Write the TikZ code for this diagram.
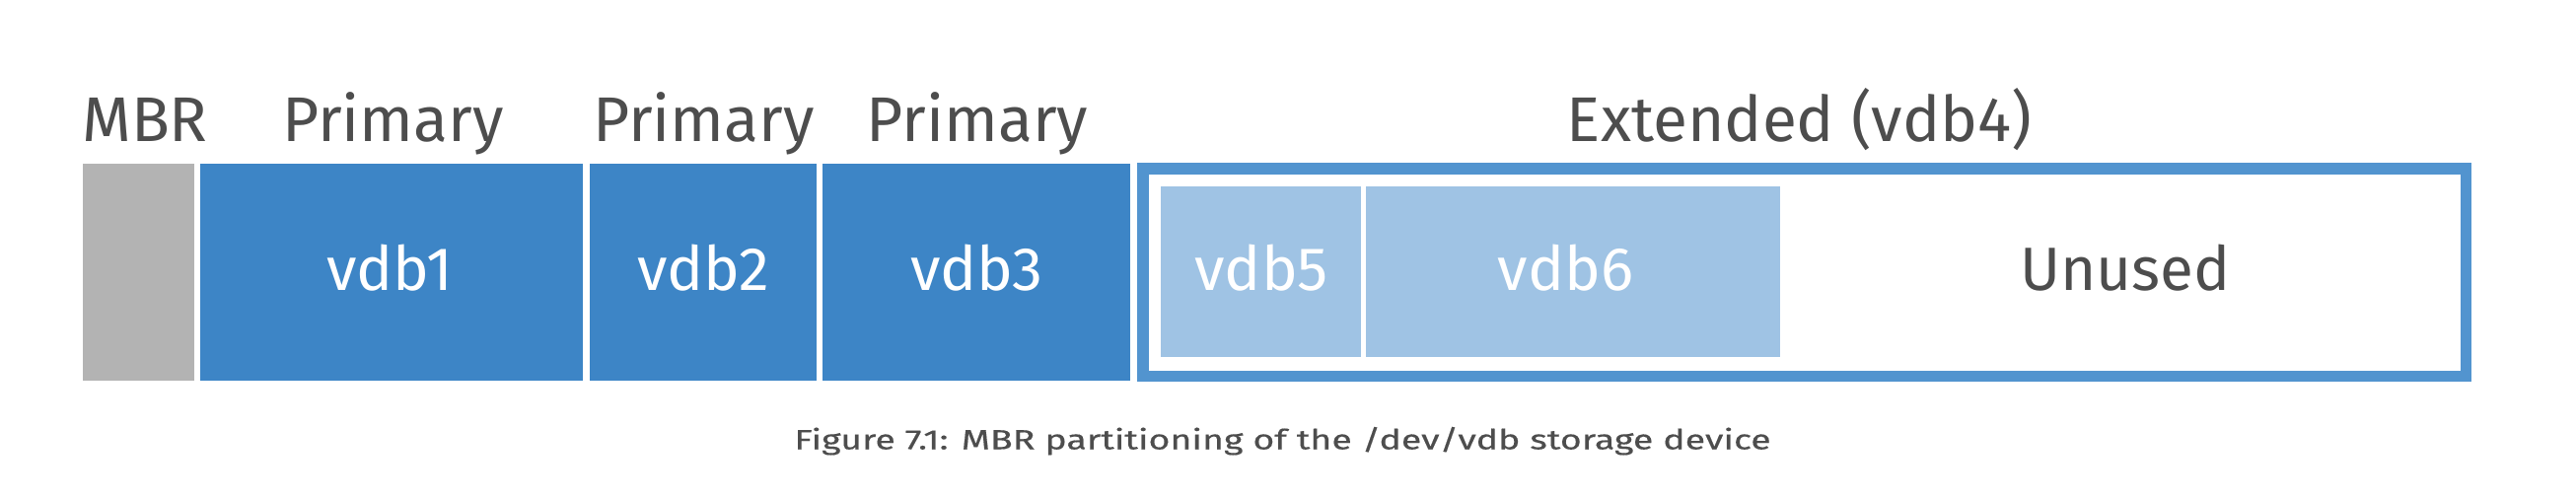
\documentclass[tikz,border=0pt]{standalone}
\usepackage{fontspec}
\setmainfont{Fira Sans}
\newfontfamily\capfont{Fira Sans}[FakeStretch=1.34, FakeBold=0.4]
\definecolor{mbrgray}{HTML}{B3B3B3}
\definecolor{prim}{HTML}{3D85C6}
\definecolor{extb}{HTML}{5294CF}
\definecolor{logi}{HTML}{9FC3E4}
\definecolor{txtgray}{HTML}{4D4D4D}
\begin{document}
\begin{tikzpicture}[x=1pt,y=-1pt,
  part/.style={anchor=north west, inner sep=0pt, outer sep=0pt, draw=none},
  head/.style={anchor=base, inner sep=0pt, text=txtgray, font=\fontsize{64}{70}\selectfont},
  inlbl/.style={anchor=base, inner sep=0pt, text=white, font=\fontsize{62}{70}\selectfont},
  figcap/.style={anchor=base, inner sep=0pt, text=txtgray, font=\capfont\fontsize{28}{30}\selectfont}]
\useasboundingbox (0,0) rectangle (2612,506);
% primary row
\node[part, fill=mbrgray, minimum width=113pt, minimum height=220pt] (mbr) at (84,166) {};
\node[part, fill=prim, minimum width=388pt, minimum height=220pt] (vdb1) at (203,166) {};
\node[part, fill=prim, minimum width=230pt, minimum height=220pt] (vdb2) at (598,166) {};
\node[part, fill=prim, minimum width=312pt, minimum height=220pt] (vdb3) at (834,166) {};
% extended
\node[draw=extb, line width=11.5pt, fill=white, inner sep=0pt, outer sep=0pt,
      minimum width=1341.5pt, minimum height=210.5pt] (vdb4) at (1829.5,276) {};
\node[part, fill=logi, minimum width=203pt, minimum height=173pt] (vdb5) at (1177,189) {};
\node[part, fill=logi, minimum width=420pt, minimum height=173pt] (vdb6) at (1385,189) {};
% headings
\node[head] (hmbr) at (147,143) {MBR};
\node[head] (hp1) at (398.5,143) {Primary};
\node[head] (hp2) at (713.5,143) {Primary};
\node[head] (hp3) at (991,143) {Primary};
\node[head] (hext) at (1824.5,143) {Extended (vdb4)};
% labels
\node[inlbl] (l1) at (395,294) {vdb1};
\node[inlbl] (l2) at (713,294) {vdb2};
\node[inlbl] (l3) at (990,294) {vdb3};
\node[inlbl] (l5) at (1279,294) {vdb5};
\node[inlbl] (l6) at (1587.5,294) {vdb6};
\node[inlbl, text=txtgray] (lu) at (2155,294) {Unused};
% caption
\node[figcap] (caption) at (1300.5,455.5) {Figure 7.1: MBR partitioning of the /dev/vdb storage device};
\end{tikzpicture}
\end{document}
